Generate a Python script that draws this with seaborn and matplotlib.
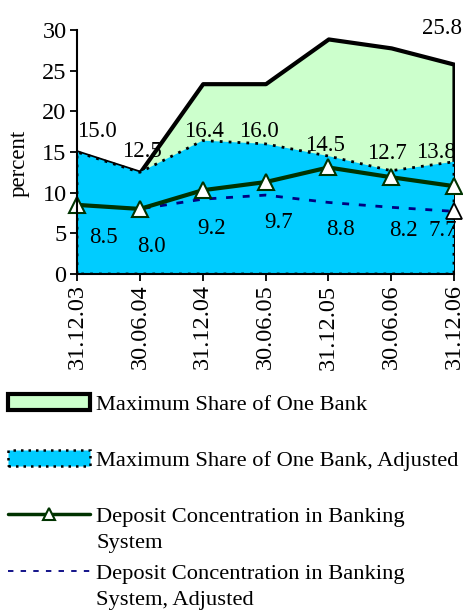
import numpy as np
import pandas as pd
import matplotlib
matplotlib.use("Agg")
import matplotlib.pyplot as plt
import seaborn as sns
from matplotlib.patches import Patch
from matplotlib.lines import Line2D

# ---- data ----
dates = ["31.12.03", "30.06.04", "31.12.04", "30.06.05", "31.12.05", "30.06.06", "31.12.06"]
max_share = [15.0, 12.5, 23.4, 23.4, 28.9, 27.8, 25.8]
max_share_adj = [15.0, 12.5, 16.4, 16.0, 14.5, 12.7, 13.8]
deposit_conc = [8.5, 8.0, 10.3, 11.3, 13.1, 11.9, 10.8]
deposit_conc_adj = [8.5, 8.0, 9.2, 9.7, 8.8, 8.2, 7.7]
y_ticks = [0, 5, 10, 15, 20, 25, 30]
legend_labels = ["Maximum Share of One Bank",
                 "Maximum Share of One Bank, Adjusted",
                 "Deposit Concentration in Banking",
                 "Deposit Concentration in Banking"]
legend_continued = ["System", "System, Adjusted"]

sns.set_style("ticks")
plt.rcParams["font.family"] = ["Liberation Serif", "DejaVu Serif"]
for k in ["text.color", "axes.labelcolor", "xtick.color", "ytick.color"]:
    plt.rcParams[k] = "black"

FS_TICK = 17.5
FS_LAB = 16.5
FS_LEG = 16.2
fig = plt.figure(figsize=(4.64, 6.10), dpi=100)
ax = fig.add_axes([77 / 464, 1 - 274 / 610, (454 - 77) / 464, (274 - 30) / 610])

x = np.arange(len(dates))
df = pd.DataFrame({"x": x, "max": max_share, "max_adj": max_share_adj,
                   "dep": deposit_conc, "dep_adj": deposit_conc_adj})

GREEN_FILL = "#CCFFCC"
CYAN = "#00CCFF"
DKGREEN = "#003300"
NAVY = "#000080"

ax.fill_between(df["x"], df["max"], 0, facecolor=GREEN_FILL, edgecolor="black",
                linewidth=3, zorder=1)
ax.fill_between(df["x"], df["max_adj"], 0, facecolor=CYAN, edgecolor="black",
                linewidth=2, linestyle=(0, (1, 2.2)), zorder=2)

sns.lineplot(data=df, x="x", y="dep_adj", ax=ax, color=NAVY, linewidth=2,
             dashes=False, linestyle=(0, (2.5, 3.5)), marker="^", markevery=[6],
             markersize=11, markerfacecolor="white", markeredgecolor="black",
             markeredgewidth=1.3, zorder=3, clip_on=False)
sns.lineplot(data=df, x="x", y="dep", ax=ax, color=DKGREEN, linewidth=3,
             marker="^", markersize=12, markerfacecolor="white",
             markeredgecolor=DKGREEN, markeredgewidth=1.5, zorder=4, clip_on=False)

# data labels (offsets in pixels relative to each point)
px2pt = 0.72
adj_off = [(19.5, 20.3), (2, 20.7), (1, 9), (-7, 12), (-3.5, 11), (-4, 17), (-18, 9)]
for i, (v, (dx, dy)) in enumerate(zip(max_share_adj, adj_off)):
    ax.annotate(f"{v:.1f}", (x[i], v), xytext=(dx * px2pt, dy * px2pt),
                textcoords="offset points", ha="center", va="center",
                fontsize=FS_LAB, zorder=6, annotation_clip=False)
ax.annotate(f"{max_share[-1]:.1f}", (x[-1], max_share[-1]),
            xytext=(-12 * px2pt, 36 * px2pt), textcoords="offset points",
            ha="center", va="center", fontsize=FS_LAB, zorder=6, annotation_clip=False)
dep_off = [(26, -33), (12, -38), (9, -29), (13, -27.6), (12, -27.5), (12.5, -23), (-11, -19)]
for i, (v, (dx, dy)) in enumerate(zip(deposit_conc_adj, dep_off)):
    ax.annotate(f"{v:.1f}", (x[i], v), xytext=(dx * px2pt, dy * px2pt),
                textcoords="offset points", ha="center", va="center",
                fontsize=FS_LAB, zorder=6, annotation_clip=False)

ax.set_xlim(0, len(dates) - 1)
ax.set_ylim(0, 30)
ax.set_xticks(x)
ax.set_xticklabels(dates, rotation=90, fontsize=FS_TICK)
ax.set_yticks(y_ticks)
ax.set_yticklabels([str(t) for t in y_ticks], fontsize=FS_TICK)
ax.set_xlabel("")
ax.set_ylabel("percent", fontsize=FS_LAB)
ax.yaxis.set_label_coords(-0.126, 0.455)
ax.tick_params(axis="both", direction="out", length=5, width=1.3, color="black",
               pad=2.5)
for s in ["top", "right"]:
    ax.spines[s].set_visible(False)
for s in ["left", "bottom"]:
    ax.spines[s].set_linewidth(1.5)
    ax.spines[s].set_color("black")
    ax.spines[s].set_zorder(7)
ax.set_facecolor("none")

handles = [
    Patch(facecolor=GREEN_FILL, edgecolor="black", linewidth=3),
    Patch(facecolor=CYAN, edgecolor="black", linewidth=1.8, linestyle=(0, (1, 2))),
    Line2D([], [], color=DKGREEN, lw=2.5, marker="^", markersize=9,
           markerfacecolor="white", markeredgecolor=DKGREEN, markeredgewidth=1.5),
    Line2D([], [], color=NAVY, lw=1.3, linestyle=(0, (3, 4))),
]
leg = fig.legend(handles, legend_labels, loc="upper left",
                 bbox_to_anchor=(8 / 464, 1 - 394 / 610), frameon=False,
                 fontsize=FS_LEG, handlelength=3.65, handletextpad=0.28,
                 labelspacing=1.58, borderpad=0, borderaxespad=0)

fig.canvas.draw()
renderer = fig.canvas.get_renderer()
texts = leg.get_texts()
for idx, cont in zip([2, 3], legend_continued):
    bb = texts[idx].get_window_extent(renderer)
    fx, fy = fig.transFigure.inverted().transform((bb.x0, bb.y0 - 26))
    fig.text(fx, fy, cont, fontsize=FS_LEG, ha="left", va="bottom")

fig.savefig("out.png", dpi=100)
